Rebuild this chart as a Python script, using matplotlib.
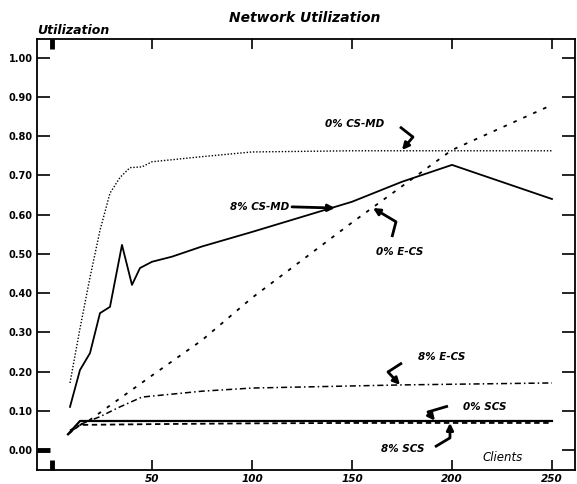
import numpy as np
import matplotlib
matplotlib.use("Agg")
import matplotlib.pyplot as plt

#%% datos
x_csmd0 = [9, 14, 19, 24, 29, 34, 39, 45, 50, 75, 100, 150, 200, 250]
y_csmd0 = [0.171, 0.31, 0.44, 0.56, 0.655, 0.695, 0.72, 0.722, 0.735, 0.748, 0.76, 0.763, 0.763, 0.763]

x_csmd8 = [9, 14, 19, 24, 29, 35, 40, 44, 50, 60, 75, 100, 150, 175, 200, 250]
y_csmd8 = [0.11, 0.204, 0.247, 0.349, 0.365, 0.523, 0.421, 0.464, 0.48, 0.493, 0.519, 0.556, 0.633, 0.684, 0.727, 0.64]

x_ecs0 = [9, 19, 50, 75, 100, 150, 200, 250]
y_ecs0 = [0.05, 0.077, 0.19, 0.28, 0.388, 0.58, 0.765, 0.88]

x_ecs8 = [9, 14, 24, 34, 45, 75, 100, 175, 250]
y_ecs8 = [0.045, 0.065, 0.085, 0.11, 0.135, 0.15, 0.158, 0.166, 0.171]

x_scs0 = [8, 14, 50, 100, 150, 200, 250]
y_scs0 = [0.04, 0.074, 0.074, 0.074, 0.074, 0.074, 0.074]

x_scs8 = [8, 14, 50, 100, 150, 200, 250]
y_scs8 = [0.04, 0.064, 0.066, 0.068, 0.069, 0.069, 0.069]

xticks = [0, 50, 100, 150, 200, 250]
xticklabels = ['', '50', '100', '150', '200', '250']
yticks = [0.0, 0.1, 0.2, 0.3, 0.4, 0.5, 0.6, 0.7, 0.8, 0.9, 1.0]

# etiquetas: texto, posicion del texto, recorrido de la flecha
etiquetas = [
    ('0% CS-MD', (151.5, 0.832), [(174, 0.824), (180.5, 0.798), (175, 0.765)]),
    ('8% CS-MD', (104, 0.62), [(120, 0.62), (141.5, 0.617)]),
    ('0% E-CS', (174, 0.505), [(170, 0.543), (172, 0.582), (160.5, 0.617)]),
    ('8% E-CS', (195, 0.237), [(175, 0.222), (168, 0.199), (174, 0.166)]),
    ('0% SCS', (216.5, 0.110), [(198, 0.112), (188, 0.097), (191.5, 0.075)]),
    ('8% SCS', (175.5, 0.003), [(191.5, 0.008), (199, 0.031), (199, 0.069)]),
]

#%% grafica
plt.rcParams['font.family'] = ['DejaVu Sans']
fig = plt.figure(figsize=(5.77, 4.84), dpi=100)
ax = fig.add_axes([0.0641, 0.0289, 0.9324, 0.8905])

ax.plot(x_csmd0, y_csmd0, color='k', lw=1.0, ls=(0, (1, 1.3)))
ax.plot(x_csmd8, y_csmd8, color='k', lw=1.3, ls='-')
ax.plot(x_ecs0, y_ecs0, color='k', lw=1.3, ls=(0, (2, 4)))
ax.plot(x_ecs8, y_ecs8, color='k', lw=1.1, ls=(0, (4, 2, 1, 2)))
ax.plot(x_scs0, y_scs0, color='k', lw=1.6, ls='-')
ax.plot(x_scs8, y_scs8, color='k', lw=1.3, ls=(0, (3, 2)))

for txt, pos, camino in etiquetas:
    ax.text(pos[0], pos[1], txt, fontsize=7.5, fontweight='bold', style='italic',
            ha='center', va='center')
    if len(camino) > 2:
        xs = [p[0] for p in camino[:-1]]
        ys = [p[1] for p in camino[:-1]]
        ax.plot(xs, ys, color='k', lw=2.0, solid_capstyle='butt')
    ax.annotate('', xy=camino[-1], xytext=camino[-2],
                arrowprops=dict(arrowstyle='-|>', color='k', lw=2.0, mutation_scale=10,
                                shrinkA=0, shrinkB=0))

ax.text(225.5, -0.018, 'Clients', fontsize=8.5, style='italic', ha='center', va='center')

ax.set_xlim(-7.5, 261.5)
ax.set_ylim(-0.051, 1.048)
ax.set_xticks(xticks)
ax.set_xticklabels(xticklabels, fontsize=7.5, fontweight='bold', style='italic')
ax.set_yticks(yticks)
ax.set_yticklabels(['%.2f' % v for v in yticks], fontsize=7, fontweight='bold')
ax.tick_params(axis='both', direction='in', top=True, right=True, width=1.2)
ax.tick_params(axis='x', length=7, pad=3)
ax.tick_params(axis='y', length=9.5, pad=3)

# marcas gruesas en el origen
t0 = ax.xaxis.get_major_ticks()[0]
t0.tick1line.set_markeredgewidth(3.5)
t0.tick2line.set_markeredgewidth(3.5)
ax.yaxis.get_major_ticks()[0].tick1line.set_markeredgewidth(3.5)

for s in ax.spines.values():
    s.set_linewidth(1.3)

fig.text(305/577, 1 - 18/484, 'Network Utilization', fontsize=10, fontweight='bold',
         style='italic', ha='center', va='center')
fig.text(37/577, 1 - 31/484, 'Utilization', fontsize=9, fontweight='bold',
         style='italic', ha='left', va='center')

fig.savefig('out.png', dpi=100)
